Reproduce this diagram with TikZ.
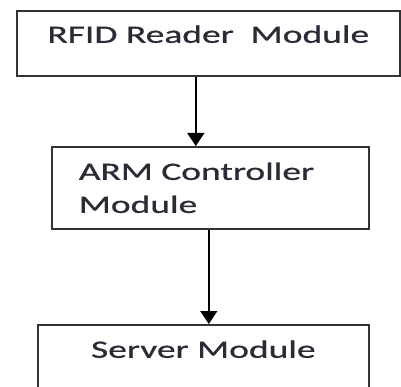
\documentclass[tikz,border=0pt]{standalone}
\usepackage{fontspec}
\setmainfont[FakeStretch=1.5, FakeBold=0.8]{Carlito}
\usepackage{tikz}
\usetikzlibrary{arrows.meta}
\definecolor{edge}{rgb}{0.2,0.2,0.2}
\definecolor{ink}{rgb}{0.17,0.17,0.22}

\begin{document}
\begin{tikzpicture}[x=1pt, y=-1pt,
		module/.style = {rectangle, draw=edge, line width=1.6pt,
			inner sep=0pt, text=ink,
			font=\fontsize{25}{33}\selectfont},
		flow/.style = {draw=black, line width=1.6pt,
			-{Triangle[length=13pt, width=17pt]}}]
		
		\useasboundingbox (0,0) rectangle (401,387);
		
		% RFID reader
		\node[module, anchor=north west, minimum width=383pt,
			text height=32pt, text depth=33pt] (rfid) at (16,10) {RFID Reader\ \ Module};
		
		% ARM controller
		\node[module, anchor=north west, minimum width=317pt, minimum height=82pt,
			inner xsep=27pt, text width=263pt, align=left] (arm) at (51,146)
			{ARM Controller\\Module};
		
		% Server
		\node[module, anchor=north west, minimum width=331pt,
			text height=33pt, text depth=36pt] (server) at (37,324) {Server Module};
		
		% Arrows
		\draw[flow] ([xshift=-12.5pt]rfid.south) -- ([xshift=-14.5pt]arm.north);
		\draw[flow] ([xshift=-1.5pt]arm.south) -- ([xshift=-1.5pt]arm.south |- server.north);
	\end{tikzpicture}
\end{document}
